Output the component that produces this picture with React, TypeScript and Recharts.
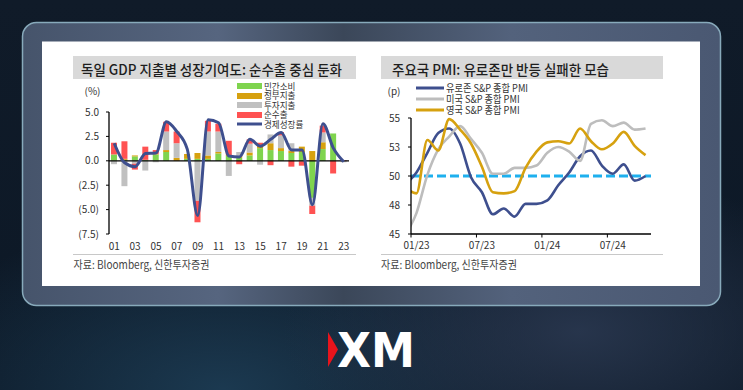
import React from 'react';
import { ComposedChart, Bar, Line, XAxis, YAxis, ReferenceLine, Legend } from 'recharts';

const FONT = "'Noto Sans CJK KR', 'Noto Sans', sans-serif";

// ---------- Left chart data: German GDP contribution by expenditure ----------
const years = ['01', '02', '03', '04', '05', '06', '07', '08', '09', '10', '11', '12', '13', '14', '15', '16', '17', '18', '19', '20', '21', '22', '23'];
const consumption = [0.65, 0.1, 0.45, 0.1, 0.65, 0.9, 0, 0.2, 0.2, 0.2, 0.75, 0.5, 0.3, 0.55, 1.3, 1.1, 1.0, 0.8, 0.9, -3.8, 1.2, 2.8, 0];
const government = [0, 0.1, 0.1, 0, 0.05, 0.2, 0.3, 0.5, 0.6, 0.35, 0.15, 0.1, 0.2, 0.3, 0.25, 0.7, 0.3, 0.2, 0.55, 1.0, 0.7, 0, 0];
const investment = [-0.35, -2.6, -0.3, -1.0, -0.15, 1.9, 1.5, 0, -4.1, 2.45, 2.1, -1.55, 0.4, 0.9, -0.4, 0.9, 1.3, 0.8, -0.05, -0.8, 1.0, 0, -0.15];
const netExports = [1.2, 1.8, -0.6, 1.35, 0.4, 1.0, 1.2, 0, -2.2, 1.1, 0.8, 1.45, -0.35, 0.45, 0.3, -0.45, 0.35, -0.6, -0.45, -0.85, 0.7, -1.3, 0.05];
const gdpGrowth = [1.8, -0.2, -0.6, 0.75, 0.8, 4.0, 3.0, 1.2, -5.6, 4.2, 3.9, 0.5, 0.4, 2.2, 1.5, 2.2, 2.9, 1.1, 1.1, -4.5, 3.8, 1.3, -0.1];
const gdpYTicks = [5, 2.5, 0, -2.5, -5, -7.5];
const gdpSeriesNames = ['민간소비', '정부지출', '투자지출', '순수출', '경제성장률'];

// ---------- Right chart data: composite PMI ----------
const months = ['12/22', '01/23', '02/23', '03/23', '04/23', '05/23', '06/23', '07/23', '08/23', '09/23', '10/23', '11/23', '12/23',
  '01/24', '02/24', '03/24', '04/24', '05/24', '06/24', '07/24', '08/24', '09/24', '10/24'];
const euroPmi = [49.3, 50.3, 52.0, 53.7, 54.1, 52.8, 49.9, 48.6, 46.7, 47.2, 46.5, 47.6, 47.6, 47.9, 49.2, 50.3, 51.7, 52.2, 50.9, 50.2, 51.0, 49.6, 50.0];
const usPmi = [45.0, 46.8, 50.1, 52.3, 53.4, 54.3, 53.2, 52.0, 50.2, 50.2, 50.7, 50.7, 50.9, 52.0, 52.5, 52.1, 51.3, 54.5, 54.8, 54.3, 54.6, 54.0, 54.1];
const ukPmi = [49.0, 48.5, 53.1, 52.2, 54.9, 54.0, 52.8, 50.8, 48.6, 48.5, 48.7, 50.7, 52.1, 52.9, 53.0, 52.8, 54.1, 53.0, 52.3, 52.8, 53.8, 52.6, 51.8];
const pmiYTicks = [45, 47.5, 50, 52.5, 55];
const pmiTickBoundaries = [-0.5, 5.5, 11.5, 17.5];
const pmiSeriesNames = ['유로존 S&P 종합 PMI', '미국 S&P 종합 PMI', '영국 S&P 종합 PMI'];

const gdpData = years.map((y, i) => ({
  year: y,
  consumption: consumption[i],
  government: government[i],
  investment: investment[i],
  netExports: netExports[i],
  gdp: gdpGrowth[i],
}));

const pmiData = months.map((m, k) => ({ i: k - 1, label: m, ez: euroPmi[k], us: usPmi[k], uk: ukPmi[k] }));

// layout
const PMI_PLOT_W = 240;
const PMI_HALF = PMI_PLOT_W / 22 / 2;

const YearTick = (props: any) => {
  const { x, y, payload } = props;
  return (
    <text x={x} y={y + 15.5} textAnchor="middle" fontSize={10} fill="#333" fontFamily={FONT}>
      {payload.value}
    </text>
  );
};

const MonthTick = (props: any) => {
  const { x, y, payload } = props;
  const label = months[payload.value + 1.5];
  return (
    <g>
      <line x1={x} x2={x} y1={y} y2={y + 3.5} stroke="#000" strokeWidth={1} />
      <text x={x + PMI_HALF} y={y + 15} textAnchor="middle" fontSize={10} fill="#333" fontFamily={FONT}>
        {label}
      </text>
    </g>
  );
};

const fmtGdp = (v: number) => (v < 0 ? `(${Math.abs(v).toFixed(1)})` : v.toFixed(1));

const makeLegend = (order: string[], rowH: number, swW: number, swH: number, fontSize: number, scale: number) => (props: any) => {
  const items = [...(props.payload || [])].sort((a: any, b: any) => order.indexOf(a.value) - order.indexOf(b.value));
  return (
    <div style={{ fontFamily: FONT }}>
      {items.map((p: any, i: number) => (
        <div key={i} style={{ height: rowH, display: 'flex', alignItems: 'center', whiteSpace: 'nowrap', overflow: 'visible' }}>
          {p.type === 'line' ? (
            <svg width={swW} height={6} style={{ display: 'block' }}>
              <line x1={0} x2={swW} y1={3} y2={3} stroke={p.color} strokeWidth={3} />
            </svg>
          ) : (
            <div style={{ width: swW, height: swH, background: p.color }} />
          )}
          <span
            style={{
              marginLeft: 2,
              fontSize,
              lineHeight: `${rowH}px`,
              height: rowH,
              color: '#333',
              display: 'inline-block',
              transform: `scaleX(${scale})`,
              transformOrigin: 'left center',
            }}
          >
            {p.value}
          </span>
        </div>
      ))}
    </div>
  );
};

const LeftLegend = makeLegend(gdpSeriesNames, 9.5, 25, 6, 9, 0.95);
const RightLegend = makeLegend(pmiSeriesNames, 10.75, 28, 3, 10, 0.92);

const Backdrop = () => (
  <svg width={743} height={390} style={{ position: 'absolute', left: 0, top: 0 }}>
    <defs>
      <linearGradient id="bgLin" x1="0" y1="0" x2="0" y2="1">
        <stop offset="0%" stopColor="#101b29" />
        <stop offset="100%" stopColor="#0c1826" />
      </linearGradient>
      <radialGradient id="glowA" cx="0.3" cy="1" r="0.45">
        <stop offset="0%" stopColor="#1d3d55" stopOpacity="0.9" />
        <stop offset="100%" stopColor="#1d3d55" stopOpacity="0" />
      </radialGradient>
      <radialGradient id="glowB" cx="0.78" cy="0.85" r="0.4">
        <stop offset="0%" stopColor="#2a3850" stopOpacity="0.9" />
        <stop offset="100%" stopColor="#2a3850" stopOpacity="0" />
      </radialGradient>
      <linearGradient id="panel" x1="0" y1="0" x2="1" y2="0">
        <stop offset="0%" stopColor="#46546b" />
        <stop offset="28%" stopColor="#56657f" />
        <stop offset="46%" stopColor="#3b4759" />
        <stop offset="70%" stopColor="#53627c" />
        <stop offset="100%" stopColor="#4a5872" />
      </linearGradient>
    </defs>
    <rect x={0} y={0} width={743} height={390} fill="url(#bgLin)" />
    <rect x={0} y={0} width={743} height={390} fill="url(#glowA)" />
    <rect x={0} y={0} width={743} height={390} fill="url(#glowB)" />
    <rect x={22.5} y={22.5} width={698} height={283} rx={14} fill="url(#panel)" stroke="#88aabb" strokeWidth={1.5} />
    <rect x={42} y={41.5} width={658} height={244.5} fill="#ffffff" />

    {/* titles */}
    <rect x={73} y={56} width={283} height={23} fill="#d9d9d9" />
    <rect x={381} y={56} width={282} height={23} fill="#d9d9d9" />
    <text x={81} y={74.5} fontSize={14} fontWeight={500} fill="#1e1e1e" fontFamily={FONT} textLength={261} lengthAdjust="spacingAndGlyphs">
      독일 GDP 지출별 성장기여도: 순수출 중심 둔화
    </text>
    <text x={392} y={74.5} fontSize={14} fontWeight={500} fill="#1e1e1e" fontFamily={FONT} textLength={217} lengthAdjust="spacingAndGlyphs">
      주요국 PMI: 유로존만 반등 실패한 모습
    </text>

    {/* unit labels */}
    <text x={92.5} y={95} textAnchor="middle" fontSize={10} fill="#333" fontFamily={FONT}>(%)</text>
    <text x={394} y={95} textAnchor="middle" fontSize={10} fill="#333" fontFamily={FONT}>(p)</text>

    {/* separators */}
    <line x1={73} x2={356} y1={254.5} y2={254.5} stroke="#c8c8c8" strokeWidth={1} />
    <line x1={381} x2={663} y1={254.5} y2={254.5} stroke="#c8c8c8" strokeWidth={1} />

    {/* sources */}
    <text x={73.5} y={268.5} fontSize={11.5} fill="#444" fontFamily={FONT} textLength={136} lengthAdjust="spacingAndGlyphs">
      자료: Bloomberg, 신한투자증권
    </text>
    <text x={381} y={268.5} fontSize={11.5} fill="#444" fontFamily={FONT} textLength={136} lengthAdjust="spacingAndGlyphs">
      자료: Bloomberg, 신한투자증권
    </text>

    {/* XM logo */}
    <polygon points="328,332 338,349.5 328,367" fill="#e8141c" />
    <text x={337} y={367} fontSize={48} fontWeight="bold" fill="#ffffff" fontFamily="'DejaVu Sans', sans-serif" textLength={78} lengthAdjust="spacingAndGlyphs">
      XM
    </text>
  </svg>
);

export default function App() {
  return (
    <div style={{ position: 'absolute', left: 0, top: 0, width: 743, height: 390, overflow: 'hidden', fontFamily: FONT }}>
      <Backdrop />

      {/* Left chart */}
      <div style={{ position: 'absolute', left: 60, top: 60 }}>
        <ComposedChart
          width={300}
          height={196}
          data={gdpData}
          stackOffset="sign"
          margin={{ top: 52, right: 11, left: 0, bottom: 0 }}
        >
          <XAxis
            dataKey="year"
            interval={1}
            axisLine={false}
            tickLine={false}
            tickSize={0}
            tickMargin={0}
            height={22}
            tick={(p: any) => <YearTick {...p} />}
          />
          <YAxis
            type="number"
            domain={[-7.5, 5]}
            ticks={gdpYTicks}
            interval={0}
            tickFormatter={fmtGdp}
            width={49}
            axisLine={{ stroke: '#000', strokeWidth: 1.3 }}
            tickLine={{ stroke: '#000', strokeWidth: 1 }}
            tickSize={3}
            tickMargin={7}
            tick={{ fontSize: 10, fill: '#333', fontFamily: FONT }}
          />
          <Bar dataKey="consumption" name={gdpSeriesNames[0]} stackId="s" fill="#7fd44e" barSize={6} isAnimationActive={false} />
          <Bar dataKey="government" name={gdpSeriesNames[1]} stackId="s" fill="#d6a10f" barSize={6} isAnimationActive={false} />
          <Bar dataKey="investment" name={gdpSeriesNames[2]} stackId="s" fill="#c0c0c0" barSize={6} isAnimationActive={false} />
          <Bar dataKey="netExports" name={gdpSeriesNames[3]} stackId="s" fill="#ff5252" barSize={6} isAnimationActive={false} />
          <ReferenceLine y={0} stroke="#000" strokeWidth={1.3} />
          <Line
            dataKey="gdp"
            name={gdpSeriesNames[4]}
            type="monotone"
            stroke="#3e4f8e"
            strokeWidth={3}
            dot={false}
            activeDot={false}
            isAnimationActive={false}
          />
          <Legend
            layout="vertical"
            align="center"
            verticalAlign="middle"
            content={LeftLegend}
            wrapperStyle={{ left: 177, top: 21.5, width: 'auto' }}
          />
        </ComposedChart>
      </div>

      {/* Right chart */}
      <div style={{ position: 'absolute', left: 370, top: 60 }}>
        <ComposedChart
          width={290}
          height={196}
          data={pmiData}
          margin={{ top: 58, right: 9, left: 0, bottom: 0 }}
        >
          <XAxis
            type="number"
            dataKey="i"
            domain={[-0.5, 21.5]}
            allowDataOverflow
            ticks={pmiTickBoundaries}
            interval={0}
            axisLine={{ stroke: '#000', strokeWidth: 1.3 }}
            tickLine={false}
            tickSize={0}
            tickMargin={0}
            height={22}
            tick={(p: any) => <MonthTick {...p} />}
          />
          <YAxis
            type="number"
            domain={[45, 55]}
            ticks={pmiYTicks}
            interval={0}
            tickFormatter={(v: number) => String(Math.round(v))}
            width={41}
            axisLine={{ stroke: '#000', strokeWidth: 1.3 }}
            tickLine={{ stroke: '#000', strokeWidth: 1 }}
            tickSize={3}
            tickMargin={8}
            tick={{ fontSize: 10, fill: '#333', fontFamily: FONT }}
          />
          <ReferenceLine y={50} stroke="#1eb0ee" strokeWidth={3} strokeDasharray="9 4" />
          <Line dataKey="ez" name={pmiSeriesNames[0]} type="monotone" stroke="#3e4f8e" strokeWidth={2.6} dot={false} activeDot={false} isAnimationActive={false} />
          <Line dataKey="us" name={pmiSeriesNames[1]} type="monotone" stroke="#bdbdbd" strokeWidth={2.6} dot={false} activeDot={false} isAnimationActive={false} />
          <Line dataKey="uk" name={pmiSeriesNames[2]} type="monotone" stroke="#d6a10f" strokeWidth={2.6} dot={false} activeDot={false} isAnimationActive={false} />
          <Legend
            layout="vertical"
            align="center"
            verticalAlign="middle"
            content={RightLegend}
            wrapperStyle={{ left: 45.5, top: 23, width: 'auto' }}
          />
        </ComposedChart>
      </div>
    </div>
  );
}
